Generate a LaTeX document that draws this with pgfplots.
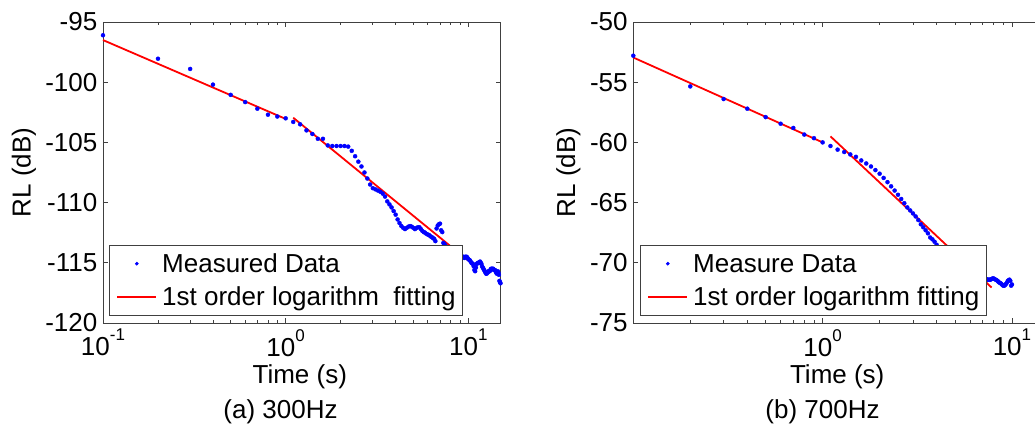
\documentclass[border=0pt]{standalone}
\usepackage{fontspec}
\setmainfont{Liberation Sans}
\usepackage{pgfplots}
\usepackage{pgfplotstable}
\pgfplotsset{compat=1.18}

\newcommand{\bigf}{\fontsize{26bp}{30bp}\selectfont}
\newcommand{\tp}[1]{10\raisebox{15bp}{\fontsize{17bp}{17bp}\selectfont #1}}

\pgfplotsset{
  legmark/.style={legend image code/.code={\draw[mark repeat=2,mark phase=2,##1,mark size=1.4bp] plot coordinates {(0bp,0bp) (19.5bp,0bp) (39bp,0bp)};}},
  legline/.style={legend image code/.code={\draw[##1] (0bp,0bp) -- (39bp,0bp);}},
}

\pgfplotstableread{
x y
0.1 -96.1
0.2 -98.05
0.3 -98.9
0.4 -100.2
0.5 -101.05
0.6 -101.65
0.7 -102.2
0.8 -102.7
0.9 -102.85
1.0 -103.0
1.1 -103.3
1.2 -103.5
1.3 -104.0
1.4 -104.3
1.5 -104.7
1.6 -104.7
1.7 -105.25
1.8 -105.3
1.9 -105.3
2.0 -105.3
2.1 -105.3
2.2 -105.35
2.3 -105.7
2.4 -106.15
2.5 -106.6
2.6 -107.0
2.7 -107.5
2.8 -108.0
2.9 -108.5
3.0 -108.8
3.1 -108.9
3.2 -109.0
3.3 -109.1
3.4 -109.25
3.5 -109.5
3.6 -109.9
3.7 -110.15
3.8 -110.4
3.9 -110.7
4.0 -111.0
4.1 -111.4
4.2 -111.7
4.3 -111.95
4.4 -112.1
4.5 -112.2
4.6 -112.1
4.7 -112.0
4.8 -111.95
4.9 -112.0
5.0 -112.1
5.1 -112.2
5.2 -112.1
5.3 -112.05
5.4 -112.05
5.5 -112.2
5.6 -112.35
5.7 -112.45
5.8 -112.5
5.9 -112.6
6.0 -112.65
6.1 -112.7
6.2 -112.8
6.3 -112.85
6.4 -112.95
6.5 -113.0
6.6 -113.2
6.7 -112.15
6.8 -111.9
6.9 -111.8
7.0 -111.75
7.1 -112.3
7.2 -112.45
7.3 -113.35
7.4 -113.45
7.5 -113.6
7.6 -113.7
7.7 -113.8
7.8 -113.9
7.9 -114.0
8.0 -114.1
8.1 -114.0
8.2 -114.2
8.3 -114.3
8.4 -114.2
8.5 -114.3
8.6 -114.4
8.7 -114.3
8.8 -114.4
8.9 -114.5
9.0 -114.4
9.1 -114.5
9.2 -114.6
9.3 -114.5
9.4 -114.5
9.5 -114.6
9.6 -114.5
9.7 -114.5
9.8 -114.5
9.9 -114.6
10.0 -114.7
10.1 -114.75
10.2 -114.8
10.3 -114.9
10.4 -115.0
10.5 -115.05
10.6 -115.1
10.7 -115.3
10.8 -115.6
10.9 -115.7
11.0 -115.4
11.1 -115.1
11.2 -115.05
11.3 -115.0
11.4 -115.0
11.5 -114.95
11.6 -114.9
11.7 -115.0
11.8 -115.1
11.9 -115.3
12.0 -115.4
12.1 -115.5
12.2 -115.6
12.3 -115.7
12.4 -115.8
12.5 -115.9
12.6 -115.9
12.7 -115.8
12.8 -115.8
12.9 -115.7
13.0 -115.7
13.1 -115.7
13.2 -115.6
13.3 -115.5
13.4 -115.5
13.5 -115.5
13.6 -115.5
13.7 -115.5
13.8 -115.6
13.9 -115.6
14.0 -115.6
14.1 -115.7
14.2 -115.8
14.3 -115.9
14.4 -115.8
14.5 -115.7
14.6 -115.8
14.7 -116.0
14.8 -116.5
14.9 -116.6
15.0 -116.7
}\dataA

\pgfplotstableread{
x y
0.1 -52.8
0.2 -55.35
0.3 -56.4
0.4 -57.2
0.5 -57.9
0.6 -58.45
0.7 -58.8
0.8 -59.35
0.9 -59.65
1.0 -60.0
1.1 -60.3
1.2 -60.6
1.3 -60.8
1.4 -61.0
1.5 -61.2
1.6 -61.5
1.7 -61.75
1.8 -62.0
1.9 -62.3
2.0 -62.6
2.1 -62.95
2.2 -63.3
2.3 -63.65
2.4 -64.0
2.5 -64.35
2.6 -64.7
2.7 -65.05
2.8 -65.4
2.9 -65.65
3.0 -65.9
3.1 -66.15
3.2 -66.45
3.3 -66.8
3.4 -67.05
3.5 -67.3
3.6 -67.55
3.7 -67.9
3.8 -68.05
3.9 -68.25
4.0 -68.5
4.1 -68.75
4.2 -69.0
4.3 -69.2
4.4 -69.4
4.5 -69.55
4.6 -69.7
4.7 -69.85
4.8 -70.0
4.9 -70.1
5.0 -70.2
5.1 -70.3
5.2 -70.4
5.3 -70.5
5.4 -70.55
5.5 -70.6
5.6 -70.7
5.7 -70.75
5.8 -70.8
5.9 -70.85
6.0 -70.9
6.1 -70.95
6.2 -71.0
6.3 -71.05
6.4 -71.1
6.5 -71.1
6.6 -71.15
6.7 -71.2
6.8 -71.2
6.9 -71.25
7.0 -71.3
7.1 -71.3
7.2 -71.35
7.3 -71.35
7.4 -71.4
7.5 -71.4
7.6 -71.4
7.7 -71.4
7.8 -71.35
7.9 -71.3
8.0 -71.3
8.1 -71.35
8.2 -71.4
8.3 -71.45
8.4 -71.5
8.5 -71.6
8.6 -71.65
8.7 -71.7
8.8 -71.75
8.9 -71.85
9.0 -71.9
9.1 -71.9
9.2 -71.85
9.3 -71.75
9.4 -71.65
9.5 -71.5
9.6 -71.45
9.7 -71.4
9.8 -71.5
9.9 -71.9
10.0 -71.8
}\dataB

\begin{document}
\begin{tikzpicture}
\useasboundingbox (0,0) rectangle (1035bp,425bp);

\begin{axis}[at={(103bp,102bp)}, anchor=south west,
  scale only axis, xmode=log, width=397.5bp, height=301bp,
  font=\bigf,
  axis line style={black!75, line width=0.8bp},
  every tick/.style={black!75, line width=0.8bp},
  major tick length=5bp, minor tick length=3bp,
  tick align=inside, clip=false,
  yticklabel style={inner sep=0pt, anchor=east, xshift=-5.5bp},
  xticklabel style={inner sep=0pt, anchor=north, yshift=-6bp},
  xlabel={Time (s)},
  xlabel style={at={(axis description cs:0.495,-0.2003)}, anchor=base, inner sep=0pt},
  ylabel={RL (dB)},
  ylabel style={at={(axis description cs:-0.1987,0.5)}, anchor=center, inner sep=0pt},
  xmin=0.1, xmax=15, ymin=-120, ymax=-95,
  xtick={0.1,1,10}, xticklabels={\tp{-1},\tp{0},\tp{1}},
  minor xtick={0.2,0.3,0.4,0.5,0.6,0.7,0.8,0.9,2,3,4,5,6,7,8,9},
  ytick={-120,-115,-110,-105,-100,-95},
  yticklabels={-120,-115,-110,-105,-100,-95},
  legend cell align=left,
  legend style={at={(axis description cs:0.0151,0.0233)}, anchor=south west,
    draw=black!75, line width=0.8bp, fill=white, inner xsep=7bp, inner ysep=3bp,
    font=\bigf, column sep=5bp, row sep=2.4bp,
    nodes={inner sep=0pt, text height=24bp, text depth=7bp}},
]
\addplot[only marks, mark=*, mark size=2bp, color=blue, legmark]
    table[x=x,y=y] {\dataA};
\addlegendentry{Measured Data}
\addplot[red, line width=1.8bp, no marks, legline]
    coordinates {(0.1,-96.5) (1.0,-103.05)};
\addlegendentry{1st order logarithm\ \ fitting}
\addplot[red, line width=1.8bp, no marks, forget plot] coordinates {(1.1,-102.95) (9.85,-114.75)};
\end{axis}

\begin{axis}[at={(633.3bp,102bp)}, anchor=south west,
  scale only axis, xmode=log, width=412bp, height=301bp,
  font=\bigf,
  axis line style={black!75, line width=0.8bp},
  every tick/.style={black!75, line width=0.8bp},
  major tick length=5bp, minor tick length=3bp,
  tick align=inside, clip=false,
  yticklabel style={inner sep=0pt, anchor=east, xshift=-5.5bp},
  xticklabel style={inner sep=0pt, anchor=north, yshift=-6bp},
  xlabel={Time (s)},
  xlabel style={at={(axis description cs:0.495,-0.2003)}, anchor=base, inner sep=0pt},
  ylabel={RL (dB)},
  ylabel style={at={(axis description cs:-0.1578,0.5)}, anchor=center, inner sep=0pt},
  xmin=0.1, xmax=15, ymin=-75, ymax=-50,
  xtick={1,10}, xticklabels={\tp{0},\tp{1}},
  minor xtick={0.2,0.3,0.4,0.5,0.6,0.7,0.8,0.9,2,3,4,5,6,7,8,9},
  ytick={-75,-70,-65,-60,-55,-50},
  yticklabels={-75,-70,-65,-60,-55,-50},
  legend cell align=left,
  legend style={at={(axis description cs:0.0163,0.0233)}, anchor=south west,
    draw=black!75, line width=0.8bp, fill=white, inner xsep=7bp, inner ysep=3bp,
    font=\bigf, column sep=5bp, row sep=2.4bp,
    nodes={inner sep=0pt, text height=24bp, text depth=7bp}},
]
\addplot[only marks, mark=*, mark size=2bp, color=blue, legmark]
    table[x=x,y=y] {\dataB};
\addlegendentry{Measure Data}
\addplot[red, line width=1.8bp, no marks, legline]
    coordinates {(0.1,-52.95) (1.0,-60.0)};
\addlegendentry{1st order logarithm fitting}
\addplot[red, line width=1.8bp, no marks, forget plot] coordinates {(1.1,-59.5) (7.8,-72.05)};
\end{axis}

\node[anchor=base, font=\bigf, inner sep=0pt] at (280.5bp,6.7bp) {(a) 300Hz};
\node[anchor=base, font=\bigf, inner sep=0pt] at (822.5bp,6.7bp) {(b) 700Hz};
\end{tikzpicture}
\end{document}
